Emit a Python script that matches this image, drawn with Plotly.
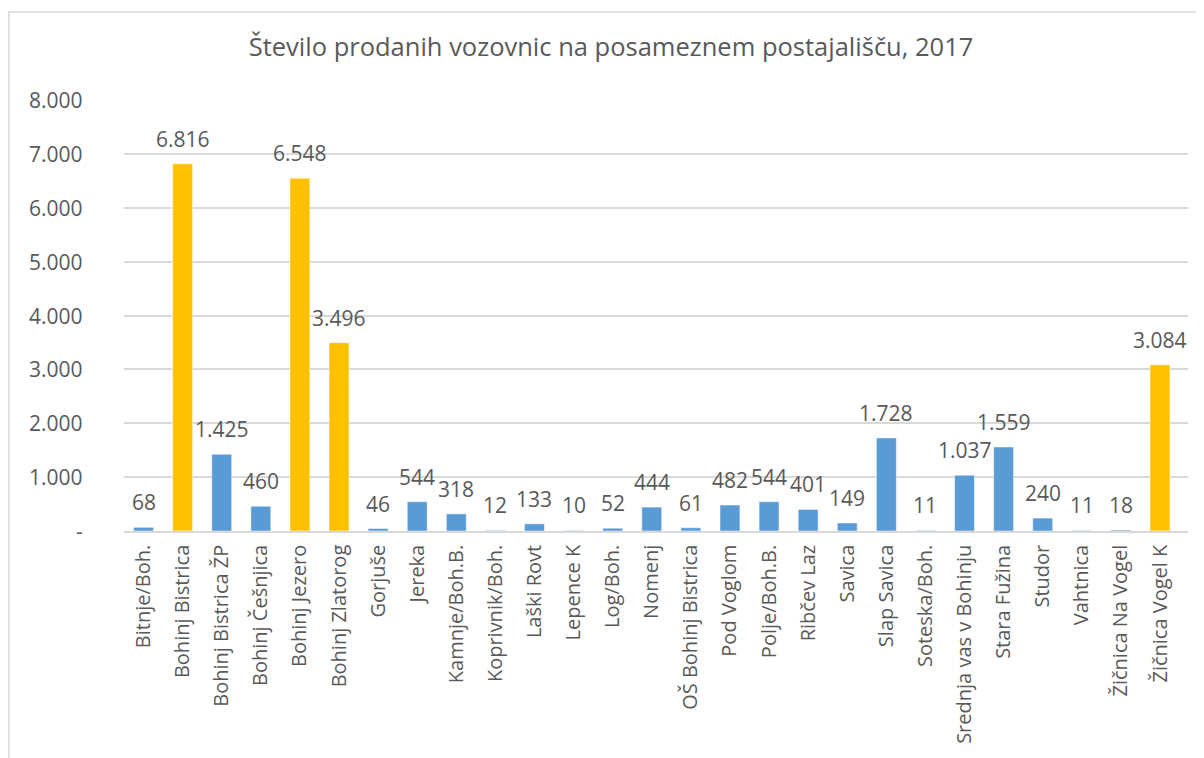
import plotly.graph_objects as go

categories = ["Bitnje/Boh.", "Bohinj Bistrica", "Bohinj Bistrica ŽP", "Bohinj Češnjica",
              "Bohinj Jezero", "Bohinj Zlatorog", "Gorjuše", "Jereka", "Kamnje/Boh.B.",
              "Koprivnik/Boh.", "Laški Rovt", "Lepence K", "Log/Boh.", "Nomenj",
              "OŠ Bohinj Bistrica", "Pod Voglom", "Polje/Boh.B.", "Ribčev Laz", "Savica",
              "Slap Savica", "Soteska/Boh.", "Srednja vas v Bohinju", "Stara Fužina",
              "Studor", "Vahtnica", "Žičnica Na Vogel", "Žičnica Vogel K"]
values = [68, 6816, 1425, 460, 6548, 3496, 46, 544, 318, 12, 133, 10, 52, 444, 61,
          482, 544, 401, 149, 1728, 11, 1037, 1559, 240, 11, 18, 3084]
highlight = ["Bohinj Bistrica", "Bohinj Jezero", "Bohinj Zlatorog", "Žičnica Vogel K"]
tick_vals = [0, 1000, 2000, 3000, 4000, 5000, 6000, 7000, 8000]
tick_text = ["-", "1.000", "2.000", "3.000", "4.000", "5.000", "6.000", "7.000", "8.000"]
title = "Število prodanih vozovnic na posameznem postajališču, 2017"

BLUE = "#5B9BD5"
GOLD = "#FFC000"
colors = [GOLD if c in highlight else BLUE for c in categories]
labels = [f"{v:,}".replace(",", ".") for v in values]

FONT = "Open Sans"
TXT = "#595959"

fig = go.Figure(go.Bar(
    x=categories, y=values, marker=dict(color=colors, line=dict(color="#FFFFFF", width=0.5)),
    hovertext=labels, hoverinfo="x+text",
))

for c, v, t in zip(categories, values, labels):
    fig.add_annotation(x=c, y=v, text=t, showarrow=False, yanchor="bottom",
                       xanchor="center", yshift=10, borderpad=0,
                       font=dict(family=FONT, size=21, color=TXT))

OFF = 8  # page body margin
W, H = 1204 - OFF, 758 - OFF
L, R, T, B = 116, 16, 92, 227
pw, ph = W - L - R, H - T - B

# y-axis tick labels, right-aligned at a fixed pixel column left of the plot
for tv, tt in zip(tick_vals, tick_text):
    fig.add_annotation(xref="paper", yref="y", x=0, xshift=-40, y=tv, text=tt,
                       showarrow=False, xanchor="right", yanchor="middle", align="right",
                       borderpad=0, font=dict(family=FONT, size=21, color=TXT))

fig.update_layout(
    width=W, height=H,
    margin=dict(l=L, r=R, t=T, b=B),
    paper_bgcolor="white", plot_bgcolor="white",
    bargap=0.49,
    showlegend=False,
    title=dict(text=title, x=(611 - OFF) / W, xref="container", xanchor="center",
               y=1 - (47 - OFF) / H, yanchor="middle", yref="container",
               font=dict(family=FONT, size=25.5, color=TXT)),
    font=dict(family=FONT, color=TXT),
)
fig.update_xaxes(tickangle=-90, tickfont=dict(family=FONT, size=20, color=TXT),
                 showgrid=False, showline=True, linecolor="#D9D9D9", linewidth=1.5,
                 ticks="", ticklabelstandoff=4)
fig.update_yaxes(range=[0, 8000], tickvals=tick_vals, showticklabels=False,
                 showgrid=True, gridcolor="#D9D9D9", gridwidth=1.5,
                 zeroline=False, showline=False, ticks="")

# chart border
fig.add_shape(type="rect", xref="paper", yref="paper",
              x0=(1 - L) / pw, x1=(W + 10 - L) / pw,
              y0=-(H + 10 - T - ph) / ph, y1=(H - 4 - B) / ph,
              line=dict(color="#D9D9D9", width=1.5), fillcolor="rgba(0,0,0,0)", layer="below")

fig.write_html("out.html")
